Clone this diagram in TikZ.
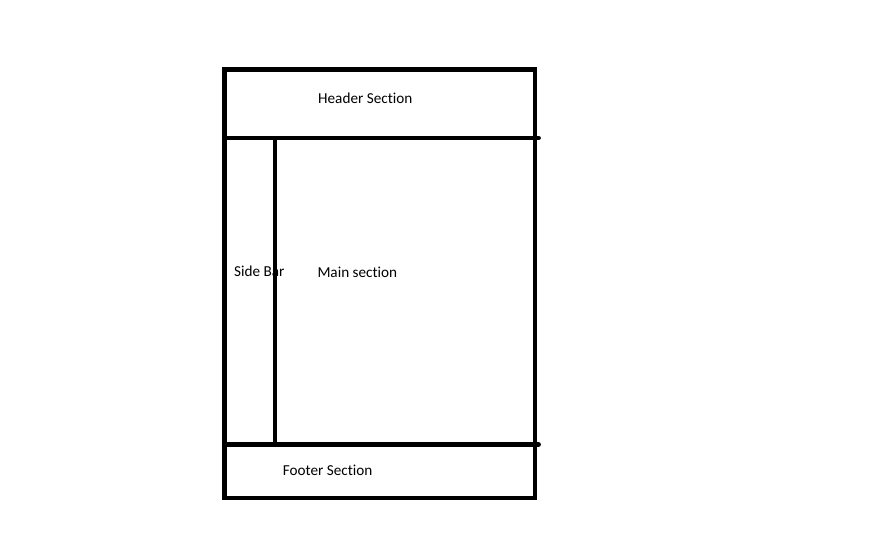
\documentclass[tikz,border=0pt]{standalone}
\usepackage{fontspec}
\setmainfont{Carlito}[Ligatures={NoCommon}]
\begin{document}
\begin{tikzpicture}[x=1pt,y=-1pt,
  frame/.style={line width=4.8pt,black,line join=miter},
  divider/.style={line width=4.8pt,black,line cap=round},
  label/.style={inner sep=0pt,anchor=base west,font=\fontsize{15.2}{18}\selectfont,text=black}]
\useasboundingbox (0,0) rectangle (895,537);
\coordinate (tl) at (224.5,69.5);
\coordinate (br) at (535,498);
\coordinate (hl) at (224.5,138);
\coordinate (hr) at (538.5,138);
\coordinate (fl) at (224.5,444.5);
\coordinate (fr) at (538.5,444.5);
\coordinate (st) at (275,138);
\coordinate (sb) at (275,444.5);
\node[label] (header) at (318,103.3) {Header Section};
\node[label] (side) at (234,276.5) {Side Bar};
\node[label] (main) at (317.3,278) {Main section};
\node[label] (footer) at (282.7,475.7) {Footer Section};
\draw[frame] (tl) rectangle (br);
\draw[divider] (hl) -- (hr);
\draw[divider] (fl) -- (fr);
\draw[frame] (st) -- (sb);
\end{tikzpicture}
\end{document}
